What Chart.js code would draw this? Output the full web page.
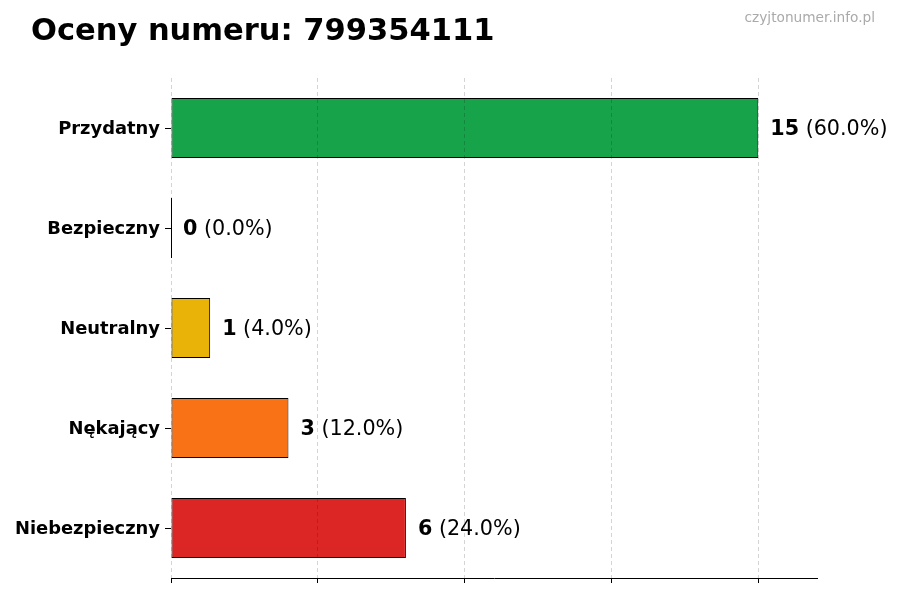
<!DOCTYPE html>
<html>
<head>
<meta charset="utf-8">
<script src="https://cdn.jsdelivr.net/npm/chart.js@4"></script>
<style>
  html, body { margin: 0; padding: 0; background: #fff; }
  #wrap { width: 900px; height: 600px; }
</style>
</head>
<body>
<div id="wrap"><canvas id="chartCanvas" width="900" height="600"></canvas></div>
<script>
const categories = ['Przydatny', 'Bezpieczny', 'Neutralny', 'Nękający', 'Niebezpieczny'];
const counts = [15, 0, 1, 3, 6];
const barColors = ['#16a34a', '#16a34a', '#eab308', '#f97316', '#dc2626'];
const titleText = 'Oceny numeru: 799354111';
const watermark = 'czyjtonumer.info.pl';

const total = counts.reduce((a, b) => a + b, 0);
const FONT = '"DejaVu Sans", sans-serif';

// titles + value labels next to each bar
const labelsPlugin = {
  id: 'barLabels',
  afterDraw(chart) {
    const ctx = chart.ctx;
    ctx.save();
    ctx.fillStyle = '#000';
    ctx.textBaseline = 'alphabetic';
    ctx.textAlign = 'left';
    ctx.font = 'bold 30.5px ' + FONT;
    ctx.fillText(titleText, 31, 40);

    ctx.fillStyle = '#aaaaaa';
    ctx.textAlign = 'right';
    ctx.font = '13.7px ' + FONT;
    ctx.fillText(watermark, 875, 22);

    const meta = chart.getDatasetMeta(0);
    ctx.textAlign = 'left';
    ctx.textBaseline = 'middle';
    meta.data.forEach((bar, i) => {
      const x = bar.x + 12;
      const y = bar.y + 1.5;
      const num = String(counts[i]);
      const pct = ' (' + (counts[i] / total * 100).toFixed(1) + '%)';
      ctx.fillStyle = '#000';
      ctx.font = 'bold 20.7px ' + FONT;
      ctx.fillText(num, x, y);
      const w = ctx.measureText(num).width;
      ctx.font = '20.7px ' + FONT;
      ctx.fillText(pct, x + w, y);
    });
    // thin edge of the empty bar
    const zb = meta.data[1];
    ctx.strokeStyle = '#000';
    ctx.lineWidth = 1;
    ctx.beginPath();
    ctx.moveTo(Math.round(zb.base) + 0.5, zb.y - zb.height / 2);
    ctx.lineTo(Math.round(zb.base) + 0.5, zb.y + zb.height / 2);
    ctx.stroke();
    ctx.restore();
  }
};

new Chart(document.getElementById('chartCanvas').getContext('2d'), {
  type: 'bar',
  data: {
    labels: categories,
    datasets: [{
      data: counts,
      backgroundColor: barColors,
      borderColor: '#000',
      borderWidth: 1,
      borderSkipped: false,
      barPercentage: 0.6,
      categoryPercentage: 1.0
    }]
  },
  options: {
    indexAxis: 'y',
    responsive: false,
    animation: false,
    layout: { padding: { top: 78, right: 83, bottom: 0, left: 0 } },
    plugins: {
      legend: { display: false },
      tooltip: { enabled: false }
    },
    scales: {
      x: {
        min: 0,
        max: 16.5,
        afterFit(scale) { scale.height = 22; },
        ticks: { display: false, stepSize: 3.75 },
        afterBuildTicks(scale) {
          scale.ticks = [0, 3.75, 7.5, 11.25, 15].map(v => ({ value: v }));
        },
        grid: {
          z: 1,
          color: 'rgba(0,0,0,0.17)',
          lineWidth: 1,
          drawTicks: true,
          tickLength: 5,
          tickColor: '#000',
          tickWidth: 1
        },
        border: { display: true, z: 1, color: '#000', width: 1, dash: [4, 3] }
      },
      y: {
        afterFit(scale) { scale.width = 171; },
        ticks: {
          color: '#000',
          padding: 5,
          labelOffset: 1.5,
          font: { family: FONT, size: 17.9, weight: 'bold' }
        },
        grid: {
          offset: false,
          drawOnChartArea: false,
          drawTicks: true,
          tickLength: 6,
          tickColor: '#000'
        },
        border: { display: false }
      }
    }
  },
  plugins: [labelsPlugin]
});
</script>
</body>
</html>
